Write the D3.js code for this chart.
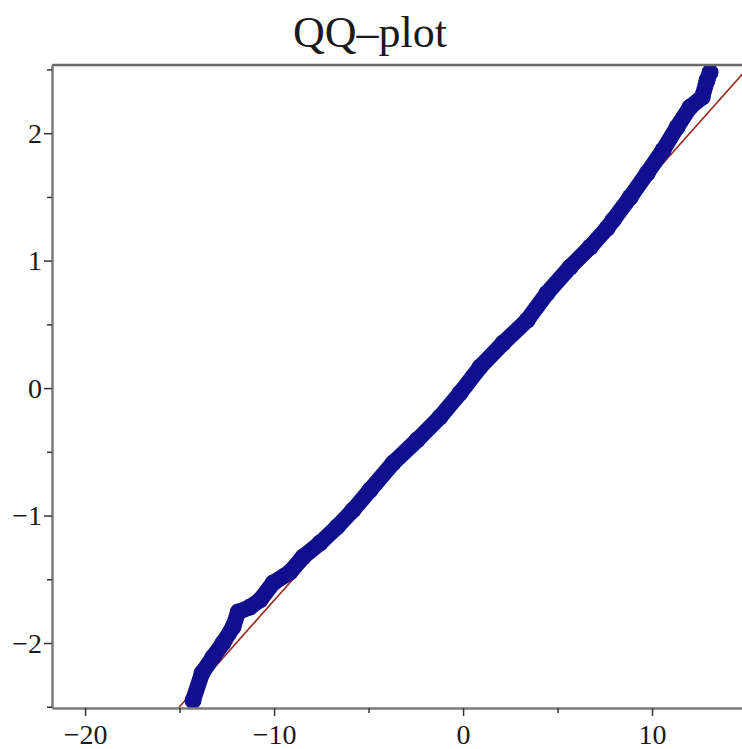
<!DOCTYPE html>
<html lang="en">
<head>
    <meta charset="UTF-8">
    <title>QQ-plot</title>
    <script src="https://d3js.org/d3.v7.min.js"></script>
    <style>
        body {
            margin: 0;
            background-color: white;
        }
        text {
            font-family: 'Liberation Serif', 'DejaVu Serif', serif;
            fill: #1a1a1a;
        }
    </style>
</head>
<body>
    <div id="chart"></div>

    <script>
        // sample quantiles (x) against normal quantiles (y)
        const sampleQ = [-14.29, -13.81, -13.23, -12.70, -12.17, -11.90, -11.27, -10.74, -10.05, -9.15,
                         -8.47, -7.57, -6.67, -5.82, -4.92, -3.70, -2.43, -1.22, -0.16, 0.90,
                         2.12, 3.39, 4.44, 5.66, 6.72, 7.62, 7.94, 8.84, 9.74, 10.58,
                         11.32, 12.01, 12.65, 12.91, 13.07];
        const normalQ = [-2.451, -2.235, -2.110, -2.000, -1.875, -1.757, -1.718, -1.663, -1.529, -1.443,
                         -1.325, -1.216, -1.090, -0.957, -0.800, -0.588, -0.408, -0.227, -0.039, 0.165,
                         0.353, 0.533, 0.745, 0.949, 1.106, 1.255, 1.318, 1.498, 1.686, 1.867,
                         2.047, 2.204, 2.282, 2.416, 2.478];

        // reference line end points
        const refX = [-15.3, 15.6];
        const refY = [-2.55, 2.60];

        const xTicks = [-20, -10, 0, 10];
        const xMinor = [-15, -5, 5];
        const yTicks = [-2, -1, 0, 1, 2];
        const yMinor = [-2.5, -1.5, -0.5, 0.5, 1.5, 2.5];

        const W = 742, H = 749;
        const margin = {left: 52, top: 65, bottom: 708, right: 756};

        const svg = d3.select("#chart")
            .append("svg")
                .attr("width", W)
                .attr("height", H);

        const x = d3.scaleLinear().domain([-21.75, 15.5]).range([margin.left, margin.right]);
        const y = d3.scaleLinear().domain([-2.51, 2.535]).range([margin.bottom, margin.top]);

        // title
        svg.append("text")
            .attr("x", 370)
            .attr("y", 47)
            .attr("text-anchor", "middle")
            .style("font-size", "44px")
            .text("QQ\u2013plot");

        svg.append("clipPath").attr("id", "plotclip")
            .append("rect")
                .attr("x", margin.left).attr("y", margin.top)
                .attr("width", margin.right - margin.left).attr("height", margin.bottom - margin.top);

        const plot = svg.append("g").attr("clip-path", "url(#plotclip)");

        // reference line
        plot.append("line")
            .attr("x1", x(refX[0])).attr("y1", y(refY[0]))
            .attr("x2", x(refX[1])).attr("y2", y(refY[1]))
            .attr("stroke", "#9a2a22")
            .attr("stroke-width", 1.6);

        const pts = sampleQ.map((v, i) => ({sx: v, ny: normalQ[i]}));
        const blue = "#10108e";

        // dense points drawn as a thick band
        plot.append("path")
            .datum(pts)
            .attr("fill", "none")
            .attr("stroke", blue)
            .attr("stroke-width", 16)
            .attr("stroke-linejoin", "round")
            .attr("stroke-linecap", "round")
            .attr("d", d3.line().x(d => x(d.sx)).y(d => y(d.ny)));

        plot.append("g").selectAll("circle")
            .data(pts)
            .join("circle")
                .attr("cx", d => x(d.sx))
                .attr("cy", d => y(d.ny))
                .attr("r", 8.5)
                .attr("fill", blue);

        // axes
        const fmt = d => d < 0 ? "\u2212" + (-d) : d;

        const xAxis = svg.append("g")
            .attr("transform", `translate(0,${margin.bottom})`)
            .call(d3.axisBottom(x).tickValues(xTicks).tickSize(8).tickSizeOuter(0).tickFormat(fmt));
        svg.append("g")
            .attr("transform", `translate(0,${margin.bottom})`)
            .call(d3.axisBottom(x).tickValues(xMinor).tickSize(5).tickSizeOuter(0).tickFormat(""))
            .call(g => g.select(".domain").remove());

        const yAxis = svg.append("g")
            .attr("transform", `translate(${margin.left},0)`)
            .call(d3.axisLeft(y).tickValues(yTicks).tickSize(8).tickSizeOuter(0).tickFormat(fmt));
        svg.append("g")
            .attr("transform", `translate(${margin.left},0)`)
            .call(d3.axisLeft(y).tickValues(yMinor).tickSize(5).tickSizeOuter(0).tickFormat(""))
            .call(g => g.select(".domain").remove());

        svg.selectAll(".domain").attr("stroke", "#7a7a7a").attr("stroke-width", 2.5);
        svg.selectAll(".tick line").attr("stroke", "#333").attr("stroke-width", 1.5);
        svg.selectAll(".tick text")
            .style("font-size", "28px")
            .style("font-family", "'Liberation Serif', serif")
            .attr("fill", "#1a1a1a");
        xAxis.selectAll(".tick text").attr("dy", null).attr("y", 36);
        yAxis.selectAll(".tick text").attr("dy", "0.33em").attr("x", -10);

        // top frame line
        svg.append("line")
            .attr("x1", margin.left).attr("y1", margin.top)
            .attr("x2", margin.right).attr("y2", margin.top)
            .attr("stroke", "#6a6a6a")
            .attr("stroke-width", 2.5);
    </script>
</body>
</html>
